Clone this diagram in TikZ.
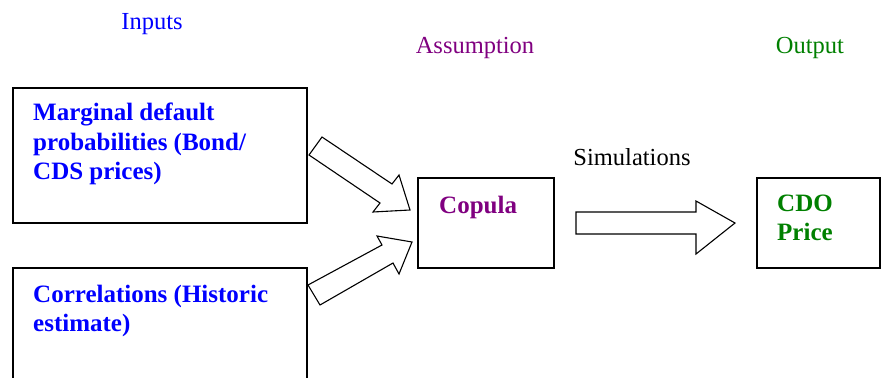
\documentclass[tikz,border=0pt]{standalone}
\usepackage{fontspec}
\setmainfont{Liberation Serif}
\definecolor{inblue}{RGB}{0,0,255}
\definecolor{aspurple}{RGB}{128,0,128}
\definecolor{outgreen}{RGB}{0,128,0}
\begin{document}
\begin{tikzpicture}[x=1pt,y=-1pt,
  box/.style={draw=black,line width=1.3pt},
  blockarrow/.style={draw=black,line width=1.1pt,fill=white,line join=miter},
  toplabel/.style={font=\fontsize{24.5}{28}\selectfont,anchor=base},
  boxtext/.style={font=\fontsize{25}{29}\selectfont\bfseries,anchor=base west,inner sep=0pt}]
\useasboundingbox (0,0) rectangle (882,377);
% labels
\node[toplabel,text=inblue] (inputs) at (152,30) {Inputs};
\node[toplabel,text=aspurple] (assump) at (475,54) {Assumption};
\node[toplabel,text=outgreen] (output) at (810,54) {Output};
\node[toplabel,text=black] (sim) at (632,165) {Simulations};
% boxes
\draw[box] (13,88) rectangle (307,223);
\draw[box] (13,380) -- (13,268) -- (307,268) -- (307,380);
\draw[box] (418,178) rectangle (554,268);
\draw[box] (757,178) rectangle (880,268);
% box texts
\node[boxtext,text=inblue] (m1) at (33,121) {Marginal default};
\node[boxtext,text=inblue] (m2) at (33,150) {probabilities (Bond/};
\node[boxtext,text=inblue] (m3) at (33,179) {CDS prices)};
\node[boxtext,text=inblue] (c1) at (33,302) {Correlations (Historic};
\node[boxtext,text=inblue] (c2) at (33,331) {estimate)};
\node[boxtext,text=aspurple] (cop) at (439,213) {Copula};
\node[boxtext,text=outgreen] (cdo1) at (777,211) {CDO};
\node[boxtext,text=outgreen] (cdo2) at (777,240) {Price};
% block arrows
\draw[blockarrow] (309,155) -- (322,137) -- (392,184) -- (399,175) -- (410,210) -- (373,212) -- (380,203) -- cycle;
\draw[blockarrow] (308,285) -- (320,305) -- (393,263) -- (399,274) -- (412,242) -- (377,236) -- (382,245) -- cycle;
\draw[blockarrow] (576,212) -- (696,212) -- (696,201) -- (735,223) -- (696,254) -- (696,234) -- (576,234) -- cycle;
\end{tikzpicture}
\end{document}
